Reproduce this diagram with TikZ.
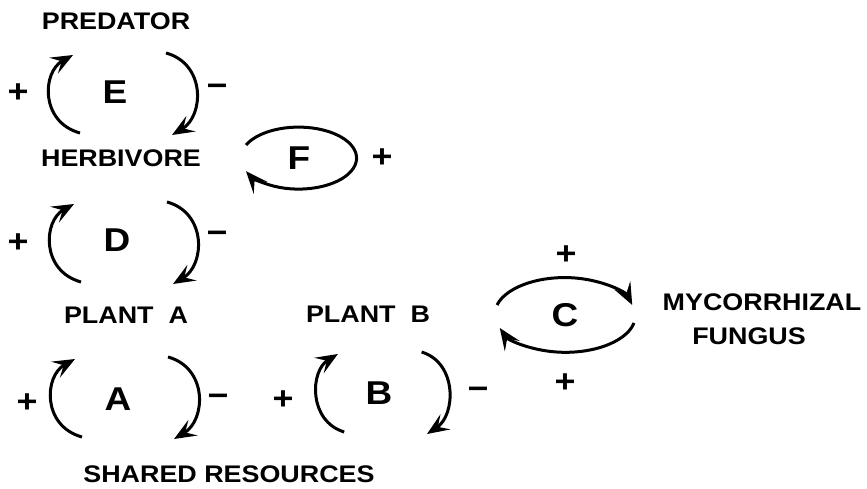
\documentclass[tikz,border=0pt]{standalone}
\usepackage{fontspec}
\newfontfamily\lab[FakeStretch=1.12]{Liberation Sans}
\usetikzlibrary{arrows.meta}
\newcommand\fbloop[4]{%
 \begin{scope}[shift={(#2,#3)}, xscale=#4]
  \coordinate (#1ls) at (-42,39); \coordinate (#1lt) at (-49,-39);
  \coordinate (#1rs) at (44,-41); \coordinate (#1rt) at (50,41);
  \draw[fb] (#1ls) .. controls +(-40,-11) and +(-31,17) .. (#1lt);
  \draw[fb] (#1rs) .. controls +(40,11) and +(32,-19) .. (#1rt);
 \end{scope}}
\begin{document}
\begin{tikzpicture}[x=1pt,y=-1pt,
  lbl/.style={font=\lab\bfseries\fontsize{24}{26}\selectfont, inner sep=0pt},
  big/.style={font=\lab\bfseries\fontsize{33}{35}\selectfont, inner sep=0pt},
  sgn/.style={font=\lab\bfseries\fontsize{32}{34}\selectfont, inner sep=0pt},
  fb/.style={line width=3pt, -{Stealth[length=22pt,width=18pt,inset=9pt]}}]
\useasboundingbox (0,0) rectangle (867,489);
% labels
\node[lbl] (pred) at (116,21) {PREDATOR};
\node[lbl] (herb) at (121,158) {HERBIVORE};
\node[lbl] (planta) at (126,315) {PLANT\ \ A};
\node[lbl] (plantb) at (368,314) {PLANT\ \ B};
\node[lbl] (myco) at (762,302) {MYCORRHIZAL};
\node[lbl] (fung) at (749,336) {FUNGUS};
\node[lbl] (res) at (229,474) {SHARED RESOURCES};
% loop letters
\node[big] (lE) at (115,92) {E};
\node[big] (lD) at (117,240) {D};
\node[big] (lA) at (118,399) {A};
\node[big] (lB) at (379,393) {B};
\node[big] (lC) at (565,315) {C};
\node[big] (lF) at (299,158) {F};
% signs
\node[sgn] (pE) at (18,93) {+};
\node[sgn] (mE) at (217,90) {−};
\node[sgn] (pD) at (18,243) {+};
\node[sgn] (mD) at (217,237) {−};
\node[sgn] (pA) at (27,403) {+};
\node[sgn] (mA) at (218,400) {−};
\node[sgn] (pB) at (283,400) {+};
\node[sgn] (mB) at (478,393) {−};
\node[sgn] (pF) at (382,158) {+};
\node[sgn] (pC1) at (566,255) {+};
\node[sgn] (pC2) at (565,383) {+};
% feedback loops
\fbloop{E}{122}{94}{1}
\fbloop{D}{123}{243}{1}
\fbloop{A}{124}{398}{1}
\fbloop{B}{382}{393}{0.9}
% F self loop
\coordinate (Fs) at (246,145);
\draw[fb] (Fs) arc[start angle=-155, end angle=155, x radius=58, y radius=31];
% C loop
\coordinate (Cts) at (497,305);
\coordinate (Cbs) at (634,323);
\draw[fb] (Cts) arc[start angle=-165, end angle=-15, x radius=70, y radius=37];
\draw[fb] (Cbs) arc[start angle=12, end angle=160, x radius=70, y radius=37];
\end{tikzpicture}
\end{document}
